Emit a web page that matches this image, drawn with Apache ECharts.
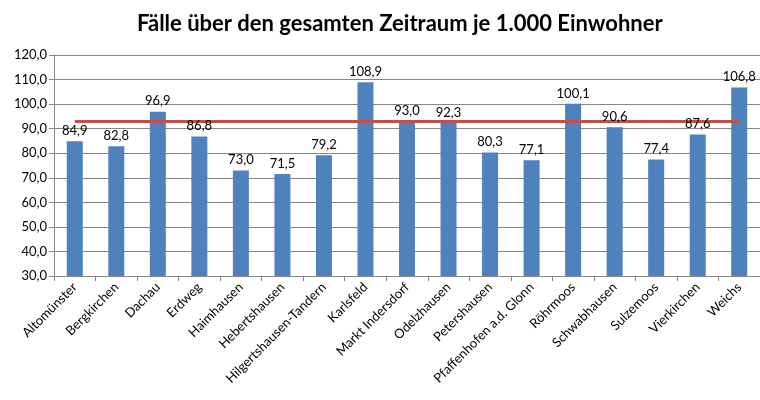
<!DOCTYPE html>
<html><head><meta charset="utf-8">
<script src="https://cdn.jsdelivr.net/npm/echarts@6/dist/echarts.min.js"></script>
<style>html,body{margin:0;padding:0;background:#fff}#c{width:760px;height:400px}</style>
</head><body><div id="c"></div>
<script>
const categories = ["Altomünster","Bergkirchen","Dachau","Erdweg","Haimhausen","Hebertshausen","Hilgertshausen-Tandern","Karlsfeld","Markt Indersdorf","Odelzhausen","Petershausen","Pfaffenhofen a.d. Glonn","Röhrmoos","Schwabhausen","Sulzemoos","Vierkirchen","Weichs"];
const values = [84.9,82.8,96.9,86.8,73.0,71.5,79.2,108.9,93.0,92.3,80.3,77.1,100.1,90.6,77.4,87.6,106.8];
const averageLine = [92.9,92.9,92.9,92.9,92.9,92.9,92.9,92.9,92.9,92.9,92.9,92.9,92.9,92.9,92.9,92.9,92.9];
const titleText = "Fälle über den gesamten Zeitraum je 1.000 Einwohner";
const fmt = v => v.toFixed(1).replace('.', ',');
const FONT = "Lato";
const chart = echarts.init(document.getElementById('c'));
chart.setOption({
  animation: false,
  title: { text: titleText, left: 132, top: 8, textStyle: { fontFamily: FONT, fontSize: 22, fontWeight: 'bold', color: '#000' } },
  grid: { left: 54, right: 0, top: 55, bottom: 124 },
  xAxis: {
    type: 'category', data: categories,
    axisLine: { lineStyle: { color: '#868686' } },
    axisTick: { show: true, length: 5, lineStyle: { color: '#868686' } },
    axisLabel: { rotate: 45, interval: 0, fontFamily: FONT, fontSize: 13, color: '#000', margin: 9 }
  },
  yAxis: {
    type: 'value', min: 30, max: 120, interval: 10,
    axisLine: { show: true, lineStyle: { color: '#868686' } },
    axisTick: { show: true, length: 5, lineStyle: { color: '#868686' } },
    splitLine: { lineStyle: { color: '#868686' } },
    axisLabel: { formatter: v => fmt(v), fontFamily: FONT, fontSize: 13, color: '#000', margin: 7 }
  },
  series: [
    { type: 'bar', data: values, barWidth: 16, itemStyle: { color: '#4F81BD' }, z: 2 },
    { type: 'line', data: averageLine, symbol: 'none', lineStyle: { color: '#C0504D', width: 3 }, z: 3 },
    { type: 'bar', data: values, barWidth: 16, barGap: '-100%', itemStyle: { color: 'rgba(0,0,0,0)' }, z: 4, silent: true,
      label: { show: true, position: 'top', distance: 4, formatter: p => fmt(p.value), fontFamily: FONT, fontSize: 13, color: '#000' } }
  ]
});
</script></body></html>
